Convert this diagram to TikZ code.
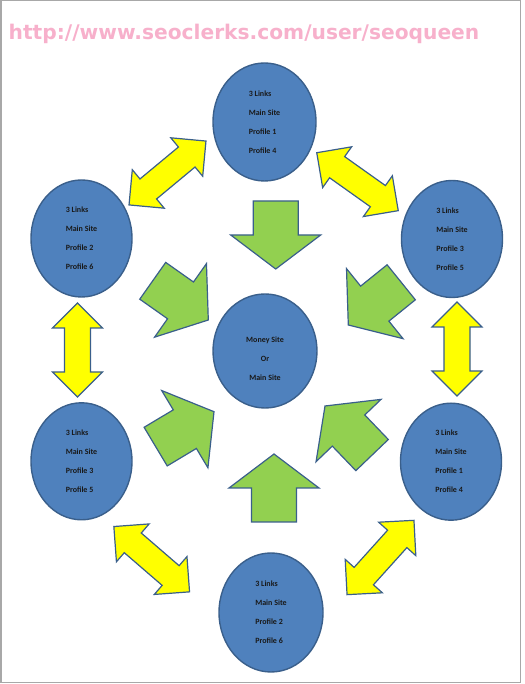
\documentclass[tikz,border=0pt]{standalone}
\usepackage{fontspec}
\setmainfont{Carlito}
\newfontfamily\urlfont{DejaVu Sans}
\usetikzlibrary{shapes.geometric}
\definecolor{siteblue}{HTML}{4F81BD}
\definecolor{siteedge}{HTML}{3A5F8B}
\definecolor{pushgreen}{HTML}{92D050}
\definecolor{swapyellow}{HTML}{FFFF00}
\definecolor{urlpink}{HTML}{F7B0CB}
\definecolor{framegray}{HTML}{A8A8A8}

\begin{document}
\begin{tikzpicture}[
      x=1pt, y=1pt,
      site/.style={ellipse, draw=siteedge, fill=siteblue, line width=1.4pt, minimum width=101pt, minimum height=117pt, inner sep=0pt, align=left, font=\bfseries\fontsize{8}{19}\selectfont, text=black!90},
      hub/.style={site, minimum width=104pt, minimum height=114pt, align=center},
      shapeedge/.style={draw=siteedge, line width=1.2pt, line join=miter},
      pics/push/.style={code={\draw[shapeedge, fill=pushgreen] (0,0) -- (-34,45) -- (-34,22.5) -- (-68,22.5) -- (-68,-22.5) -- (-34,-22.5) -- (-34,-45) -- cycle;}},
      pics/swap/.style={code={\draw[shapeedge, fill=swapyellow] (#1,0) -- ({#1-25},25) -- ({#1-25},13) -- ({25-#1},13) -- ({25-#1},25) -- (-#1,0) -- ({25-#1},-25) -- ({25-#1},-13) -- ({#1-25},-13) -- ({#1-25},-25) -- cycle;}}
  ]
    \useasboundingbox (0,0) rectangle (524,684);
    \draw[framegray, line width=1.5pt] (0.75,1.5) rectangle (520.25,683.25);

    \node[font=\urlfont\bfseries\fontsize{20.2}{24}\selectfont, text=urlpink, anchor=base west, inner sep=0pt] (url) at (8.5,644.5) {http://www.seoclerks.com/user/seoqueen};

    % sites
    \node[site, minimum width=103pt, minimum height=118pt] (top) at (264.5,562) {3 Links\\Main Site\\Profile 1\\Profile 4};
    \node[site] (upleft) at (81.5,445.5) {3 Links\\Main Site\\Profile 2\\Profile 6};
    \node[site] (upright) at (452,445) {3 Links\\Main Site\\Profile 3\\Profile 5};
    \node[hub] (money) at (265,333) {\raisebox{-7pt}[\height][\depth]{\begin{tabular}{@{}c@{}}Money Site\\Or\\Main Site\end{tabular}}};
    \node[site] (lowleft) at (81.5,222.7) {3 Links\\Main Site\\Profile 3\\Profile 5};
    \node[site] (lowright) at (451,222.3) {3 Links\\Main Site\\Profile 1\\Profile 4};
    \node[site, minimum width=104pt, minimum height=119pt] (bottom) at (271,71.5) {3 Links\\Main Site\\Profile 2\\Profile 6};

    % links into the money site
    \pic[rotate=-90] (p1) at (275.7,415) {push};
    \pic[rotate=-35.2] (p2) at (208.3,364) {push};
    \pic[rotate=-141.1] (p3) at (348.3,359) {push};
    \pic[rotate=30.9] (p4) at (214,272.3) {push};
    \pic[rotate=133.8] (p5) at (325,278) {push};
    \pic[rotate=90] (p6) at (274,230) {push};

    % links between the profiles
    \pic[rotate=39.7] (w1) at (167.5,511) {swap=50};
    \pic[rotate=-35.4] (w2) at (357.5,502.3) {swap=50};
    \pic[rotate=90] (w3) at (77.5,334) {swap=47};
    \pic[rotate=90] (w4) at (457,335) {swap=47};
    \pic[rotate=-40.8] (w5) at (151.7,124.8) {swap=50};
    \pic[rotate=48] (w6) at (380.5,126.5) {swap=50};
  \end{tikzpicture}
\end{document}
